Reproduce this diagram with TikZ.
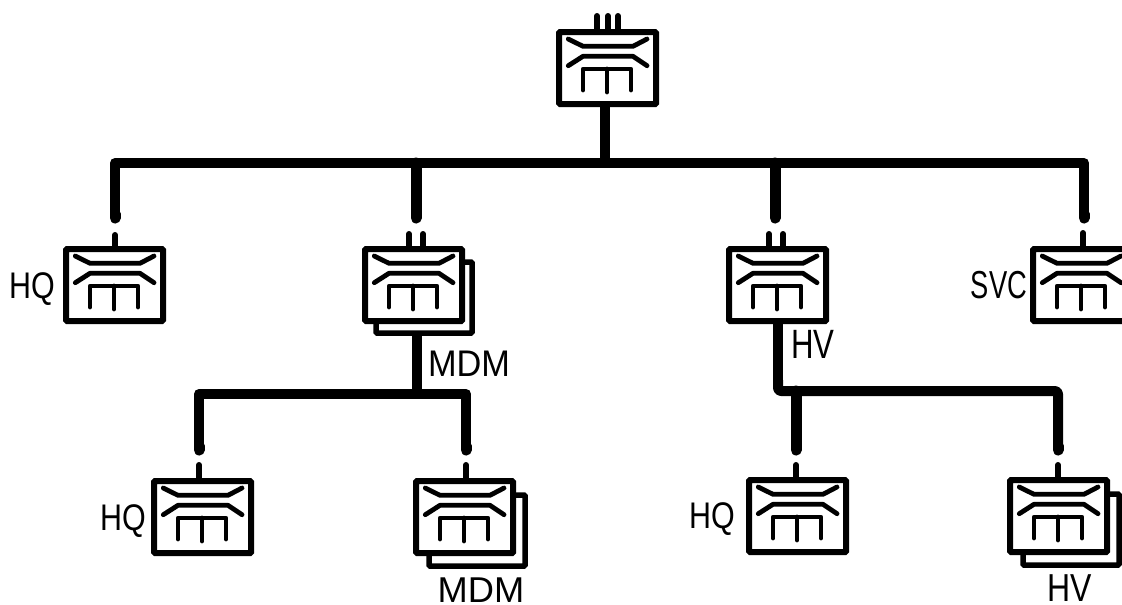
\documentclass[tikz,border=0pt]{standalone}
\usepackage{fontspec}
\setmainfont{Liberation Sans}
\tikzset{x=1pt,y=-1pt,
  unitbox/.style={draw=black,fill=white,line width=6pt,rounded corners=1pt,minimum width=97pt,minimum height=72pt,inner sep=0pt,outer sep=0pt},
  shadowbox/.style={draw=black,fill=white,line width=5.5pt,rounded corners=1pt,minimum width=96pt,minimum height=71pt,inner sep=0pt,outer sep=0pt},
  glyph/.style={line width=4.8pt,line cap=round,line join=round},
  bus/.style={line width=10pt,line join=round},
  trunk/.style={line width=10pt},
  drop/.style={line width=11pt,line cap=round},
  stub/.style={line width=6pt,line cap=round},
  lbl/.style={font=\fontsize{39}{39}\selectfont,inner sep=0pt,outer sep=0pt,text=black,anchor=base}}
\newcommand{\unitat}[3]{%
  \node[unitbox,anchor=north west] (#1) at (#2,#3) {};
  \begin{scope}[shift={(#2,#3)}]
    \draw[glyph] (9.3,7) -- (24,14.3) -- (74,14.3) -- (88,7);
    \draw[glyph] (9.3,33.7) -- (24,24.3) -- (74,24.3) -- (88,33.7);
    \draw[glyph] (24,58) -- (24,37) -- (72,37) -- (72,58);
    \draw[glyph] (48,37) -- (48,60);
  \end{scope}}
\newcommand{\shadowat}[3]{\node[shadowbox,anchor=north west] (#1) at (#2,#3) {};}
\begin{document}
\begin{tikzpicture}
\useasboundingbox (0,0) rectangle (1122,605);
\clip (0,0) rectangle (1122,605);
% shadows
\shadowat{sa}{376}{262}
\shadowat{sb}{429}{495}
\shadowat{sc}{1023}{494}
% boxes
\unitat{top}{559}{32}
\unitat{hqa}{66}{249}
\unitat{mdma}{365}{249}
\unitat{hva}{729}{249}
\unitat{svc}{1033}{249}
\unitat{hqb}{154}{481}
\unitat{mdmb}{416}{481}
\unitat{hqc}{749}{480}
\unitat{hvb}{1010}{480}
% upper bus
\coordinate (tc) at (605,163);
\coordinate (busa) at (115,163);
\coordinate (busb) at (1084,163);
\coordinate (da) at (115,218);
\coordinate (db) at (416,218);
\coordinate (dc) at (775,218);
\coordinate (dd) at (1084,218);
\draw[trunk] (tc |- top.south) -- (tc);
\draw[bus] (da) -- (busa) -- (busb) -- (dd);
\draw[drop] (da) -- ++(0,-4);
\draw[drop] (dd) -- ++(0,-4);
\draw[drop] (db) -- (416,163);
\draw[drop] (dc) -- (775,163);
% stubs
\foreach \xx in {597,608,618} \draw[stub] (\xx,16) -- (\xx,30);
\draw[stub] (115,235) -- (115,247);
\draw[stub] (409,234) -- (409,247);
\draw[stub] (423,234) -- (423,247);
\draw[stub] (769,234) -- (769,247);
\draw[stub] (783,234) -- (783,247);
\draw[stub] (1083,233) -- (1083,247);
% lower left bus
\coordinate (lt) at (417,394);
\coordinate (buslA) at (199,394);
\coordinate (buslB) at (466,394);
\coordinate (dla) at (199,450);
\coordinate (dlb) at (466,450);
\draw[trunk] (lt |- sa.south) -- (lt);
\draw[bus] (dla) -- (buslA) -- (buslB) -- (dlb);
\draw[drop] (dla) -- ++(0,-4);
\draw[drop] (dlb) -- ++(0,-4);
\draw[stub] (199,465) -- (199,479);
\draw[stub] (466,465) -- (466,479);
% lower right bus
\coordinate (rt) at (778,391);
\coordinate (busrB) at (1058,391);
\coordinate (drb) at (796,450);
\coordinate (drc) at (1058,450);
\draw[trunk] (rt |- hva.south) -- (778,386);
\draw[bus,rounded corners=3pt] (778,380) -- (rt) -- (busrB) -- (drc);
\draw[drop] (drb) -- (796,391);
\draw[drop] (drc) -- ++(0,-4);
\draw[stub] (796,465) -- (796,478);
\draw[stub] (1058,465) -- (1058,478);
% labels
\node[lbl] (lhqa) at (32,298) {\scalebox{.78}[.95]{HQ}};
\node[lbl] (lmdma) at (469,376) {\scalebox{.88}[.95]{MDM}};
\node[lbl] (lhva) at (813,358) {\scalebox{.8}[1.05]{HV}};
\node[lbl] (lsvc) at (999,298) {\scalebox{.7}[1]{SVC}};
\node[lbl] (lhqb) at (123,530) {\scalebox{.78}[.95]{HQ}};
\node[lbl] (lmdmb) at (481,602) {\scalebox{.93}[.92]{MDM}};
\node[lbl] (lhqc) at (712,528) {\scalebox{.78}[.95]{HQ}};
\node[lbl] (lhvb) at (1070,601) {\scalebox{.82}[1]{HV}};
\end{tikzpicture}
\end{document}
